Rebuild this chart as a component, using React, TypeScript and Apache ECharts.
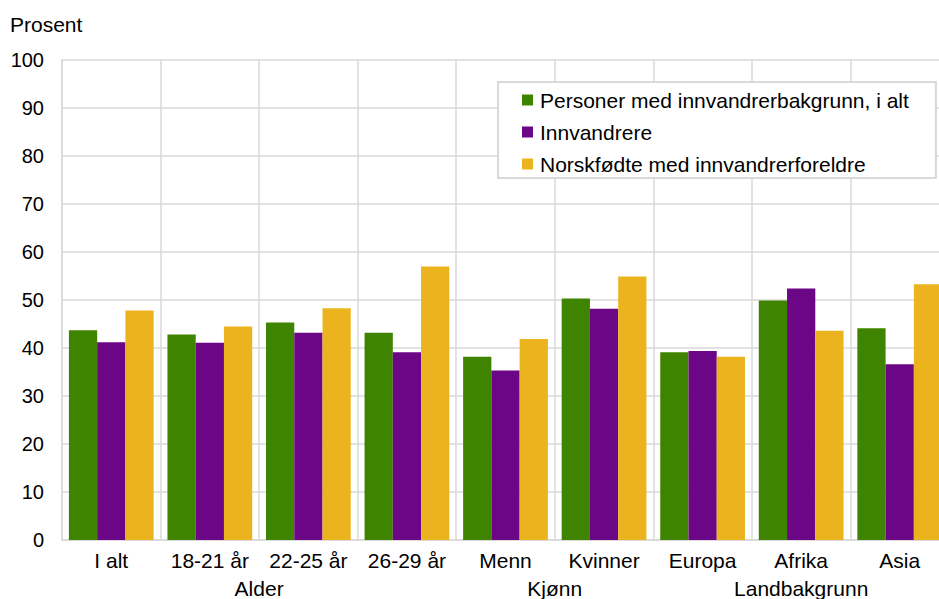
import React, { useEffect, useRef } from "react";
import * as echarts from "echarts";

const categories = ["I alt", "18-21 år", "22-25 år", "26-29 år", "Menn", "Kvinner", "Europa", "Afrika", "Asia"];
const seriesNames = ["Personer med innvandrerbakgrunn, i alt", "Innvandrere", "Norskfødte med innvandrerforeldre"];
const totalValues = [43.7, 42.8, 45.3, 43.2, 38.2, 50.3, 39.1, 49.9, 44.1];
const immigrantValues = [41.2, 41.1, 43.2, 39.1, 35.3, 48.2, 39.4, 52.4, 36.6];
const norwegianBornValues = [47.8, 44.5, 48.3, 57.0, 41.9, 54.9, 38.2, 43.6, 53.3];
const seriesColors = ["#3e8400", "#6b0787", "#ebb41f"];
const groupLabels: Record<string, string> = { "2": "Alder", "5": "Kjønn", "7.5": "Landbakgrunn" };
const yTicks = { min: 0, max: 100, interval: 10 };

const FONT = "'Liberation Sans', Arial, sans-serif";
const GRID = "#d9d9d9";

export default function App() {
  const ref = useRef<HTMLDivElement>(null);
  useEffect(() => {
    if (!ref.current) return;
    const chart = echarts.init(ref.current, null, { renderer: "svg" });
    const values = [totalValues, immigrantValues, norwegianBornValues];
    chart.setOption({
      animation: false,
      backgroundColor: "#ffffff",
      textStyle: { fontFamily: FONT },
      title: {
        text: "Prosent",
        left: 10,
        top: 14,
        padding: 0,
        textStyle: { fontFamily: FONT, fontSize: 21, fontWeight: "normal", color: "#000" },
      },
      legend: {
        orient: "vertical",
        left: 498,
        top: 82,
        padding: [7, 27, 3, 24],
        backgroundColor: "#ffffff",
        borderColor: GRID,
        borderWidth: 2,
        borderRadius: 0,
        itemWidth: 11,
        itemHeight: 11,
        itemGap: 10,
        icon: "rect",
        data: seriesNames,
        textStyle: { fontFamily: FONT, fontSize: 21, color: "#000", lineHeight: 22, padding: [0, 0, 0, 2] },
      },
      grid: { left: 62, top: 60, right: -10, bottom: 59, containLabel: false, outerBoundsMode: "none" },
      xAxis: [
        {
          type: "category",
          data: categories,
          boundaryGap: true,
          axisLine: { show: true, lineStyle: { color: GRID, width: 1.5 } },
          axisTick: { show: false },
          splitLine: { show: true, interval: 0, lineStyle: { color: GRID, width: 1.5 } },
          axisLabel: { interval: 0, margin: 10, fontSize: 21, color: "#000", fontFamily: FONT },
        },
        {
          type: "value",
          position: "bottom",
          min: 0,
          max: 9,
          interval: 0.5,
          offset: 28,
          axisLine: { show: false },
          axisTick: { show: false },
          splitLine: { show: false },
          axisLabel: {
            margin: 10,
            fontSize: 21,
            color: "#000",
            fontFamily: FONT,
            showMinLabel: true,
            showMaxLabel: true,
            hideOverlap: false,
            formatter: (v: number) => groupLabels[String(v)] || "",
          },
        },
      ],
      yAxis: {
        type: "value",
        min: yTicks.min,
        max: yTicks.max,
        interval: yTicks.interval,
        axisLine: { show: true, lineStyle: { color: GRID, width: 1.5 } },
        axisTick: { show: false },
        splitLine: { show: true, lineStyle: { color: GRID, width: 1.5 } },
        axisLabel: { margin: 18, fontSize: 20, color: "#000", fontFamily: FONT },
      },
      series: seriesNames.map((name, i) => ({
        name,
        type: "bar",
        xAxisIndex: 0,
        data: values[i],
        barGap: "0%",
        barCategoryGap: "14%",
        itemStyle: { color: seriesColors[i] },
      })),
    });
    return () => chart.dispose();
  }, []);
  return <div ref={ref} style={{ width: 939, height: 599, position: "absolute", left: 0, top: 0 }} />;
}
